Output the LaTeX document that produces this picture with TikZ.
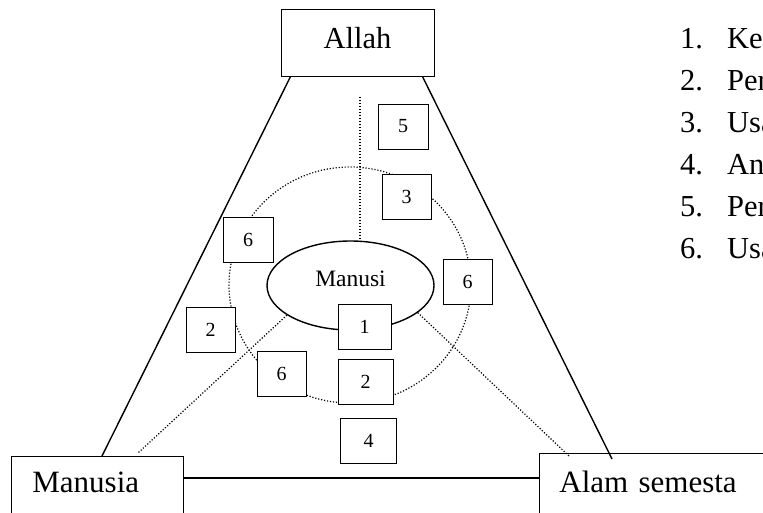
\documentclass[tikz,border=0pt]{standalone}
\usepackage{fontspec}
\setmainfont{Liberation Serif}
\usetikzlibrary{shapes.geometric}
\tikzset{
	numbox/.style={draw, fill=white, line width=0.8pt, minimum width=49pt, minimum height=45pt, inner sep=0pt, font=\fontsize{20}{24}\selectfont},
	bigbox/.style={draw, line width=0.8pt, inner ysep=0pt, align=left, font=\fontsize{31}{36}\selectfont},
	legend/.style={anchor=base west, inner sep=0pt, font=\fontsize{30.5}{36}\selectfont},
	side/.style={line width=1.4pt},
	dots/.style={dash pattern=on 1.2pt off 1.8pt, line width=1.2pt}
}
\begin{document}
\begin{tikzpicture}[x=1pt,y=-1pt]
		\useasboundingbox (0,0) rectangle (763,512);
		\clip (0,0) rectangle (763,512);
		\draw [dots] (350,285) ellipse [x radius=121pt, y radius=118pt];
		\node [draw, line width=0.8pt, minimum width=153pt, minimum height=67pt, inner sep=0pt, text depth=10pt, font=\fontsize{30.5}{36}\selectfont] (allah) at (357.5,42.5) {Allah};
		\node [bigbox, anchor=north west, inner xsep=21pt, text width=130pt, text height=36pt, text depth=40pt] (manusia) at (11,456) {Manusia};
		\node [bigbox, anchor=north west, inner xsep=20pt, text width=260pt, text height=39pt, text depth=40pt] (alam) at (539,453) {Alam semesta};
		\node [ellipse, draw, line width=1.4pt, minimum width=167pt, minimum height=89pt, inner sep=0pt, text depth=13pt, font=\fontsize{23.5}{28}\selectfont] (manusi) at (350.5,285.5) {Manusi};
		\coordinate (vtop) at (360,97);
		\coordinate (lfoot) at (138,453);
		\coordinate (rfoot) at (569,456);
		\draw [dots] (vtop) -- (vtop |- manusi.north);
		\draw [dots] (manusi.205) -- (lfoot);
		\draw [dots] (manusi.338) -- (rfoot);
		\draw [side] ([xshift=10pt]allah.south west) -- ([xshift=91pt]manusia.north west);
		\draw [side] ([xshift=-12pt]allah.south east) -- ([xshift=73pt,yshift=-6pt]alam.north west);
		\draw [line width=2pt] ([yshift=-22pt]manusia.north east) -- ([yshift=-25pt]alam.north west);
		\node [numbox, minimum width=50pt] (n5) at (403,126.5) {5};
		\node [numbox] (n3) at (406.5,196.5) {3};
		\node [numbox, minimum width=50pt] (n6a) at (248,239.5) {6};
		\node [numbox] (n6b) at (467.5,281.5) {6};
		\node [numbox] (n2a) at (210.5,329.5) {2};
		\node [numbox, minimum width=53pt] (n1) at (364.5,326.5) {1};
		\node [numbox] (n6c) at (281.5,374) {6};
		\node [numbox, minimum width=55pt] (n2b) at (365.5,381.5) {2};
		\node [numbox, minimum width=56pt] (n4) at (368.5,441) {4};
		\foreach \n/\w in {1/Ke,2/Per,3/Usa,4/An,5/Per,6/Usa} {
			\node [legend] (num\n) at (680,6+42*\n) {\n.};
			\node [legend] (txt\n) at (727,6+42*\n) {\w};
		}
\end{tikzpicture}
\end{document}
